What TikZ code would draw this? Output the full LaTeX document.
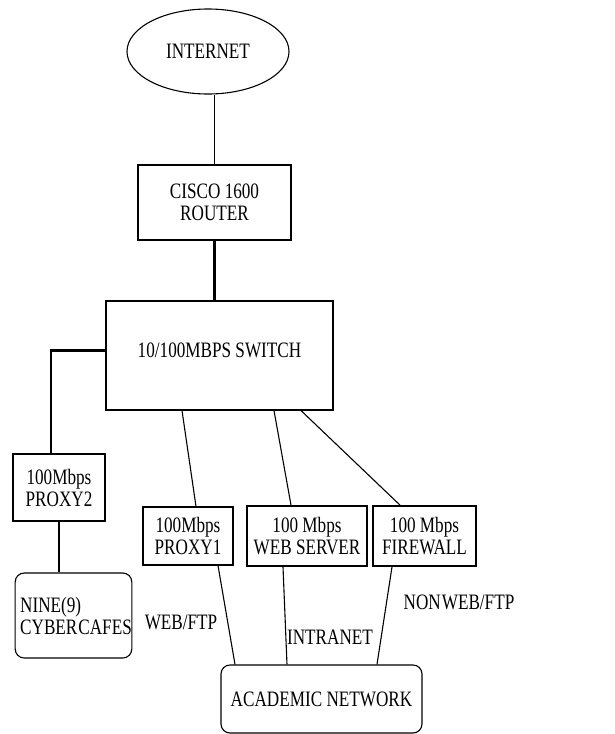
\documentclass[tikz,border=0pt]{standalone}
\usepackage{fontspec}
\setmainfont{Liberation Serif}[FakeStretch=0.78]
\usetikzlibrary{shapes.geometric}

\begin{document}
\begin{tikzpicture}[x=1pt, y=-1pt, font=\fontsize{22}{22}\selectfont,
    box/.style={draw, line width=1.1pt, inner sep=0pt, align=center},
    rbox/.style={box, rounded corners=9pt},
    link/.style={line width=1.1pt},
    trunk/.style={line width=2.2pt}]
    \useasboundingbox (0, 0) rectangle (614, 734);

    \node (internet) [draw, ellipse, line width=1.1pt, inner sep=0pt, minimum width=162, minimum height=85] at (208, 51.5) {INTERNET};
    \node (router) [box, minimum width=153, minimum height=75] at (214.5, 202.5) {CISCO 1600\\ROUTER};
    \node (switch) [box, minimum width=227, minimum height=109] at (219.5, 355.5) {\raisebox{11pt}{10/100MBPS SWITCH}};
    \node (proxy2) [box, minimum width=92, minimum height=67] at (59, 487.5) {100Mbps\\PROXY2};
    \node (cafes) [rbox, align=left, minimum width=113, minimum height=85] at (73.5, 615.5) {\hspace*{5pt}NINE(9)\\\hspace*{5pt}CYBER\kern1pt CAFES};
    \node (proxy1) [box, minimum width=90, minimum height=58] at (188, 536) {100Mbps\\PROXY1};
    \node (websrv) [box, line width=1.8pt, minimum width=120, minimum height=60] at (307, 536) {100 Mbps\\WEB SERVER};
    \node (firewall) [box, line width=1.8pt, minimum width=103, minimum height=60] at (424.5, 536) {100 Mbps\\FIREWALL};
    \node (academic) [rbox, minimum width=201, minimum height=68] at (321.5, 699) {ACADEMIC NETWORK};

    \node (webftp) at (181, 622) {WEB/FTP};
    \node (intranet) at (330, 637) {INTRANET};
    \node (nonweb) at (459, 602) {NON\kern1pt WEB/FTP};

    \draw[link] (router.north) -- (router.north |- internet.south);
    \draw[trunk] (router.south) -- (router.south |- switch.north);
    \draw[trunk] ([yshift=5pt]switch.west) -| ([xshift=-8pt]proxy2.north);
    \draw[link] (proxy2.south) -- (proxy2.south |- cafes.north);

    \draw[link] ([xshift=-37.5pt]switch.south) -- ([xshift=8pt]proxy1.north);
    \draw[link] ([xshift=54.5pt]switch.south) -- ([xshift=-16pt]websrv.north);
    \draw[link] ([xshift=81.5pt]switch.south) -- ([xshift=-24.5pt]firewall.north);

    \draw[link] ([xshift=30pt]proxy1.south) -- ([xshift=-86.5pt]academic.north);
    \draw[link] ([xshift=-24pt]websrv.south) -- ([xshift=-34.5pt]academic.north);
    \draw[link] ([xshift=-32.5pt]firewall.south) -- ([xshift=55.5pt]academic.north);
\end{tikzpicture}
\end{document}
